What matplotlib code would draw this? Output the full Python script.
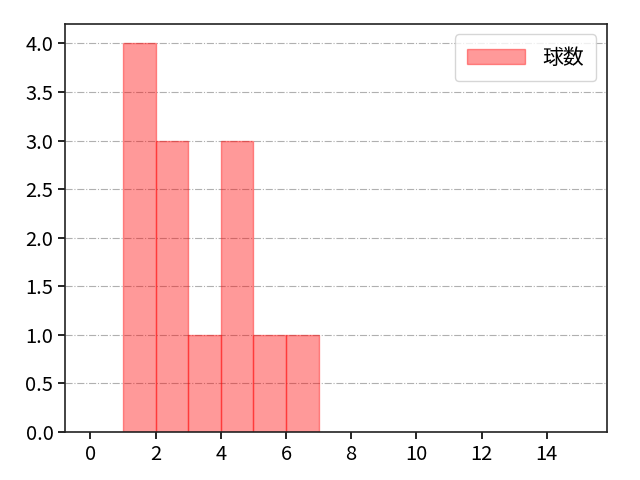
import matplotlib
import matplotlib.pyplot as plt

matplotlib.use("Agg")

plt.rcParams["font.family"] = ["Noto Sans CJK JP", "DejaVu Sans"]

# histogram bins (left edges) and counts
bin_left = [1, 2, 3, 4, 5, 6]
counts = [4, 3, 1, 3, 1, 1]
bin_edges = [1, 2, 3, 4, 5, 6, 7]
x_ticks = [0, 2, 4, 6, 8, 10, 12, 14]
label = "球数"

fig = plt.figure(figsize=(6.4, 4.8), dpi=100)
ax = fig.add_axes([0.102, 0.1, 0.846, 0.85])

ax.hist(bin_left, bins=bin_edges, weights=counts, color="red", alpha=0.4,
        edgecolor="red", linewidth=1, label=label)

ax.set_xlim(-0.77, 15.84)
ax.set_ylim(0, 4.2)
ax.set_xticks(x_ticks)
ax.grid(axis="y", linestyle="-.", color="#b0b0b0", linewidth=0.8)
ax.set_axisbelow(True)
ax.tick_params(labelsize=14.5, width=1.2, length=5)
for sp in ax.spines.values():
    sp.set_linewidth(1.2)
    sp.set_color("#222222")

ax.legend(loc="upper right", fontsize=15, handlelength=2.8, borderpad=0.6)

fig.savefig("out.png", dpi=100)
